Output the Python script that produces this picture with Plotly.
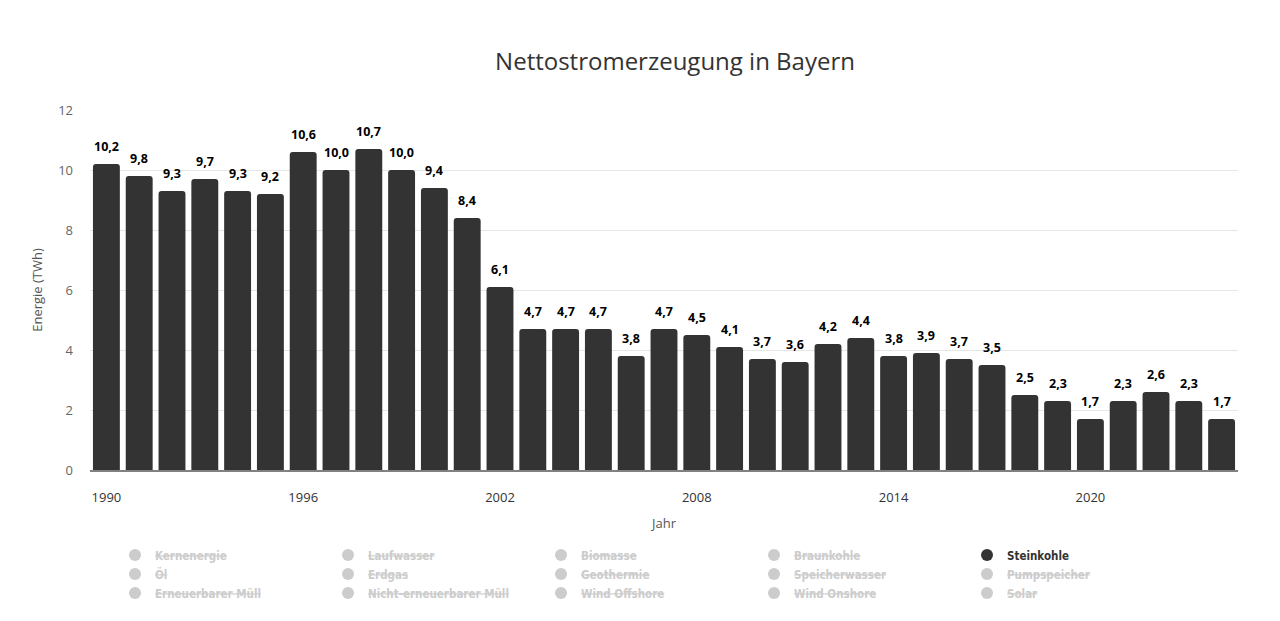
import plotly.graph_objects as go

# Nettostromerzeugung Steinkohle in Bayern (TWh)
jahre = list(range(1990, 2025))
steinkohle = [10.2, 9.8, 9.3, 9.7, 9.3, 9.2, 10.6, 10.0, 10.7, 10.0,
              9.4, 8.4, 6.1, 4.7, 4.7, 4.7, 3.8, 4.7, 4.5, 4.1,
              3.7, 3.6, 4.2, 4.4, 3.8, 3.9, 3.7, 3.5, 2.5, 2.3,
              1.7, 2.3, 2.6, 2.3, 1.7]

# Legendeneinträge (Reihenfolge zeilenweise wie im Original)
energietraeger = ['Kernenergie', 'Laufwasser', 'Biomasse', 'Braunkohle', 'Steinkohle',
                  'Öl', 'Erdgas', 'Geothermie', 'Speicherwasser', 'Pumpspeicher',
                  'Erneuerbarer Müll', 'Nicht-erneuerbarer Müll', 'Wind Offshore', 'Wind Onshore', 'Solar']
sichtbar = ['Steinkohle']

FARBE = '#333333'
GRAU = '#cccccc'

fig = go.Figure()

fig.add_trace(go.Bar(
    x=jahre, y=steinkohle, name='Steinkohle',
    marker=dict(color=FARBE, line=dict(width=0)),
    showlegend=False, legendgroup='Steinkohle',
))

# Datenbeschriftungen über den Balken
for jahr, wert in zip(jahre, steinkohle):
    fig.add_annotation(
        x=jahr, y=wert, xref='x', yref='y',
        text=f'{wert:.1f}'.replace('.', ','),
        showarrow=False, yanchor='bottom', yshift=7,
        font=dict(family='Open Sans', size=12.5, color='#000000', weight='bold'),
    )

# Legende mit Kreissymbolen
for name in energietraeger:
    if name in sichtbar:
        label = name
        farbe = FARBE
    else:
        label = f'<span style="color:{GRAU}"><s>{name}</s></span>'
        farbe = GRAU
    fig.add_trace(go.Scatter(
        x=[None], y=[None], mode='markers', name=label,
        marker=dict(symbol='circle', size=13, color=farbe),
        legendgroup=name, showlegend=True,
    ))

# Seite hat 8px Rand -> Figur etwas kleiner
fig.update_layout(
    width=1272, height=613,
    paper_bgcolor='white', plot_bgcolor='white',
    separators=',.',
    font=dict(family='Open Sans', size=13, color='#333333'),
    title=dict(text='Nettostromerzeugung in Bayern', x=0.5244, xanchor='center',
               y=0.912, yanchor='middle', xref='container', yref='container',
               font=dict(size=24, color='#333333')),
    margin=dict(l=82, r=42, t=102, b=151),
    bargap=0.18,
    barcornerradius=3,
    legend=dict(orientation='h',
                x=0.0218, xanchor='left', y=-0.196, yanchor='top',
                entrywidth=168, entrywidthmode='pixels', itemsizing='constant',
                font=dict(family='DejaVu Sans Condensed', size=11.5,
                          color='#333333', weight='bold'),
                tracegroupgap=0, itemclick=False, itemdoubleclick=False),
    showlegend=True,
)

fig.update_xaxes(
    range=[1989.5, 2024.5], tickmode='linear', tick0=1990, dtick=6,
    showgrid=False, showline=True, linecolor='#808080', linewidth=2,
    ticks='', ticklabelstandoff=14,
    tickfont=dict(size=13, color='#333333'),
    title=dict(text='Jahr', font=dict(size=13, color='#555555'), standoff=14),
)
fig.update_yaxes(
    range=[0, 12], dtick=2, showgrid=True, gridcolor='#e6e6e6', gridwidth=1,
    zeroline=False, showline=False, ticks='', ticklabelstandoff=16,
    tickfont=dict(size=13, color='#666666'),
    title=dict(text='Energie (TWh)', font=dict(size=13, color='#555555'), standoff=12),
)

fig.write_html('out.html')
